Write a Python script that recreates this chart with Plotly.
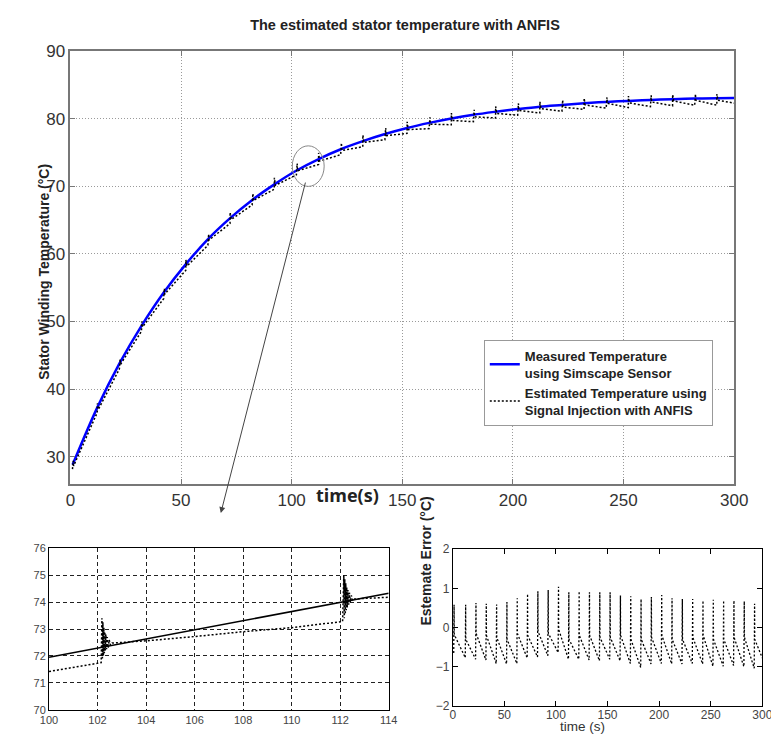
import plotly.graph_objects as go

W, H = 779, 742

# --- data ------------------------------------------------------------------
# injection instants (s)
spike_t = [1.0, 12.2, 22.2, 32.2, 42.2, 52.2, 62.2, 72.2, 82.2, 92.2,
           102.2, 112.2, 122.2, 132.2, 142.2, 152.2, 162.2, 172.2, 182.2, 192.2,
           202.2, 212.2, 222.2, 232.2, 242.2, 252.2, 262.2, 272.2, 282.2, 292.2]
# measured stator temperature (degC) at those instants, plus end of run
meas_t = spike_t + [300.0]
meas_temp = [28.8, 37.3, 43.8, 49.4, 54.3, 58.5, 62.2, 65.3, 68.0, 70.3,
             72.35, 74.05, 75.5, 76.7, 77.75, 78.65, 79.4, 80.05, 80.6, 81.05,
             81.45, 81.8, 82.05, 82.3, 82.5, 82.65, 82.8, 82.9, 83.0, 83.05, 83.1]
# estimate error (degC): peak of each burst, value just before, value just after
err_top = [0.58, 0.58, 0.63, 0.61, 0.59, 0.65, 0.75, 0.86, 0.93, 0.96,
           1.04, 0.90, 0.93, 0.90, 0.90, 0.90, 0.82, 0.80, 0.73, 0.78,
           0.83, 0.75, 0.73, 0.73, 0.69, 0.71, 0.69, 0.69, 0.67, 0.61]
err_pre = [-0.65, -0.77, -0.81, -0.83, -0.92, -0.93, -0.92, -0.78, -0.75, -0.72,
           -0.64, -0.81, -0.81, -0.83, -0.85, -0.81, -0.85, -0.92, -1.02, -0.93,
           -0.92, -0.93, -0.93, -0.92, -0.93, -0.99, -0.99, -0.97, -1.00, -1.04]
err_post = [-0.18, -0.30, -0.15, -0.20, -0.25, -0.30, -0.15, -0.20, -0.10, -0.15,
            -0.05, -0.30, -0.20, -0.20, -0.25, -0.25, -0.20, -0.30, -0.30, -0.25,
            -0.20, -0.30, -0.30, -0.25, -0.20, -0.30, -0.30, -0.25, -0.25, -0.30]
err_end = -0.78

# magnified window 100..114 s
zoom_meas_t = [100, 114]
zoom_meas = [71.95, 74.33]
zoom_est_t = [100, 102.15, 102.18, 102.2, 102.22, 102.24, 102.26, 102.28, 102.3, 102.32,
              102.34, 102.37, 102.4, 102.44, 102.48, 102.53, 102.6, 104, 106, 108, 110,
              112.1, 112.15, 112.17, 112.19, 112.21, 112.23, 112.25, 112.27, 112.29,
              112.32, 112.35, 112.38, 112.42, 112.46, 112.52, 112.6, 114]
zoom_est = [71.42, 71.75, 73.4, 71.9, 73.25, 72.0, 73.05, 72.1, 72.9, 72.2,
            72.8, 72.25, 72.7, 72.3, 72.6, 72.4, 72.48, 72.56, 72.72, 72.9, 73.05,
            73.28, 75.0, 73.4, 74.85, 73.55, 74.7, 73.7, 74.55, 73.8, 74.45, 73.9,
            74.35, 74.0, 74.25, 74.05, 74.12, 74.18]


def sawtooth(base, base_end):
    xs, ys = [], []
    for k, t in enumerate(spike_t):
        b = base[k]
        xs += [t - 0.05, t, t + 0.15, t + 0.3, t + 0.45]
        ys += [b + err_pre[k], b + err_top[k], b + err_post[k], b + err_top[k], b + err_post[k]]
    xs.append(300.0)
    ys.append(base_end + err_end)
    return xs, ys


est_x, est_y = sawtooth(meas_temp, meas_temp[-1])
err_x, err_y = sawtooth([0.0] * len(spike_t), 0.0)

FONT = "Liberation Sans, Arial, sans-serif"
GRAY = "#333333"

fig = go.Figure()
fig.add_trace(go.Scatter(
    x=meas_t, y=meas_temp, mode="lines", line=dict(color="#0000ff", width=2.5, shape="spline"),
    name="<b>Measured Temperature<br>using Simscape Sensor</b>", xaxis="x", yaxis="y",
))
fig.add_trace(go.Scatter(
    x=est_x, y=est_y, mode="lines", line=dict(color="black", width=1.5, dash="2px,2px"),
    name="<b>Estimated Temperature using<br>Signal Injection with ANFIS</b>", xaxis="x", yaxis="y",
))
fig.add_trace(go.Scatter(
    x=zoom_meas_t, y=zoom_meas, mode="lines", line=dict(color="black", width=1.6),
    showlegend=False, xaxis="x2", yaxis="y2",
))
fig.add_trace(go.Scatter(
    x=zoom_est_t, y=zoom_est, mode="lines", line=dict(color="black", width=1.5, dash="2px,2px"),
    showlegend=False, xaxis="x2", yaxis="y2",
))
fig.add_trace(go.Scatter(
    x=err_x, y=err_y, mode="lines", line=dict(color="black", width=1.3, dash="2px,2px"),
    showlegend=False, xaxis="x3", yaxis="y3",
))


def px_x(px):
    return px / W


def px_y(py):
    return 1 - py / H


main_axis = dict(
    showline=True, linecolor="#777777", linewidth=1.5, mirror="ticks",
    ticks="inside", ticklen=5, tickcolor="#777777",
    showgrid=True, gridcolor="#9a9a9a", gridwidth=1, griddash="1px,2px",
    zeroline=False, tickfont=dict(size=17, color=GRAY, family=FONT),
)

fig.update_layout(
    width=W, height=H,
    margin=dict(l=0, r=0, t=0, b=0),
    paper_bgcolor="white", plot_bgcolor="white",
    font=dict(family=FONT, color=GRAY),
    title=dict(
        text="<b>The estimated stator temperature with ANFIS</b>",
        x=px_x(397), y=px_y(17), xanchor="center", yanchor="middle",
        font=dict(size=14.5, color="#222222", family=FONT),
    ),
    xaxis=dict(main_axis, domain=[px_x(55), px_x(739)], range=[0, 300], dtick=50, anchor="y"),
    yaxis=dict(main_axis, domain=[px_y(477), px_y(35)], range=[26, 90], tick0=30, dtick=10, anchor="x"),
    xaxis2=dict(
        domain=[px_x(33), px_x(383)], range=[100, 114], dtick=2, anchor="y2",
        showline=True, linecolor="black", linewidth=1, mirror=True, ticks="",
        showgrid=True, gridcolor="#222222", griddash="4px,3px", zeroline=False,
        tickfont=dict(size=11, color="#444444"),
    ),
    yaxis2=dict(
        domain=[px_y(708), px_y(543)], range=[70, 76], dtick=1, anchor="x2",
        showline=True, linecolor="black", linewidth=1, mirror=True, ticks="",
        showgrid=True, gridcolor="#222222", griddash="4px,3px", zeroline=False,
        tickfont=dict(size=11, color="#444444"),
    ),
    xaxis3=dict(
        domain=[px_x(449), px_x(768)], range=[0, 300], dtick=50, anchor="y3",
        showline=True, linecolor="black", linewidth=1, mirror="ticks",
        ticks="inside", ticklen=5, tickcolor="black", showgrid=False, zeroline=False,
        tickfont=dict(size=12, color="#444444"), ticklabelstandoff=-2,
    ),
    yaxis3=dict(
        domain=[px_y(704), px_y(544)], range=[-2, 2], dtick=1, anchor="x3",
        showline=True, linecolor="black", linewidth=1, mirror="ticks",
        ticks="inside", ticklen=5, tickcolor="black", showgrid=False, zeroline=False,
        tickfont=dict(size=12, color="#444444"),
    ),
    legend=dict(
        x=px_x(481), y=px_y(330), xanchor="left", yanchor="top",
        bgcolor="white", bordercolor="#999999", borderwidth=1,
        font=dict(size=13, color="#222222", family=FONT),
    ),
    showlegend=True,
)

# zoom ellipse and arrow pointing to the magnified panel
fig.add_shape(type="circle", xref="x", yref="y", x0=100.3, x1=114.7, y0=70.0, y1=76.0,
              line=dict(color="#888888", width=1))
fig.add_annotation(
    x=px_x(210), y=px_y(507), xref="paper", yref="paper",
    ax=85, ay=-332, axref="pixel", ayref="pixel",
    showarrow=True, arrowhead=2, arrowsize=1.2, arrowwidth=1, arrowcolor="#444444", text="",
)

# axis titles
fig.add_annotation(
    x=px_x(18), y=px_y(260), xref="paper", yref="paper", showarrow=False, textangle=-90,
    text="<b>Stator Winding Temperature (°C)</b>", font=dict(size=14, color="#222222"),
)
fig.add_annotation(
    x=px_x(341), y=px_y(503), xref="paper", yref="paper", showarrow=False,
    text="<b>time(s)</b>", font=dict(size=18, color="#222222", family="Open Sans, Arial"),
)
fig.add_annotation(
    x=px_x(422), y=px_y(624), xref="paper", yref="paper", showarrow=False, textangle=-90,
    text="<b>Estemate Error (°C)</b>", font=dict(size=14, color="#222222"),
)
fig.add_annotation(
    x=px_x(607), y=px_y(734), xref="paper", yref="paper", showarrow=False,
    text="time (s)", font=dict(size=13.5, color="#333333"), borderpad=0,
)

fig.write_html("out.html")
